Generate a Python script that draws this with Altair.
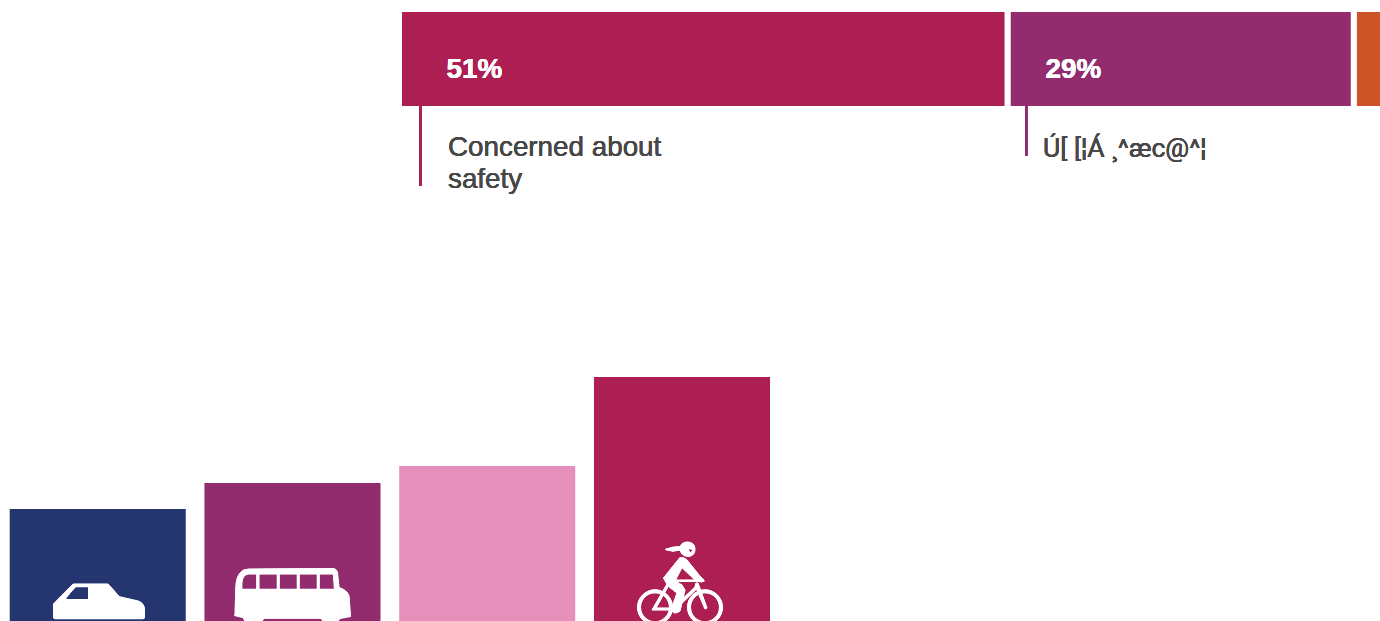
import altair as alt
import pandas as pd

# Share of respondents by reason (stacked strip along the top)
reasons = ["Concerned about safety", "Other concern", "Remainder"]
shares = [51, 29, 20]
reason_colors = ["#ad1f53", "#922c6e", "#cb5527"]

# Travel modes (column chart, running past the lower edge of the view)
modes = ["Car", "Bus", "Walk", "Bike"]
mode_values = [16.1, 18.7, 20.4, 29.3]
mode_colors = ["#243570", "#922c6e", "#e78fbb", "#ad1f53"]

INK = "#484848"
WHITE = "#ffffff"

starts = [sum(shares[:i]) for i in range(len(shares))]
strip = pd.DataFrame({
    "reason": reasons,
    "start": starts,
    "end": [s + v for s, v in zip(starts, shares)],
    "row": ["share"] * len(shares),
})
columns = pd.DataFrame({"mode": modes, "value": mode_values})

strip_bars = alt.Chart(strip).mark_bar(stroke=WHITE, strokeWidth=6, clip=True).encode(
    x=alt.X("start:Q", axis=None, scale=alt.Scale(domain=[0, 100], range=[399, 1592.6])),
    x2="end:Q",
    y=alt.Y("row:N", axis=None, scale=alt.Scale(domain=["share"], range=[9, 109], paddingInner=0, paddingOuter=0)),
    color=alt.Color("reason:N", legend=None, scale=alt.Scale(domain=reasons, range=reason_colors)),
)

mode_bars = alt.Chart(columns).mark_bar(clip=True).encode(
    x=alt.X("mode:N", axis=None, sort=modes,
            scale=alt.Scale(domain=modes, range=[9.7, 770], paddingInner=0.096, paddingOuter=0)),
    y=alt.Y("value:Q", axis=None, scale=alt.Scale(domain=[0, 100], range=[670, -330])),
    color=alt.Color("mode:N", legend=None, scale=alt.Scale(domain=modes, range=mode_colors)),
)


def rule(x, y1, y2, color):
    return alt.Chart(columns).mark_rule(color=color, strokeWidth=2.5).encode(
        x=alt.value(x), y=alt.value(y1), y2=alt.value(y2))


def label(x, y, text, color=INK, size=27.8, bold=False, font="Liberation Sans", **kw):
    return alt.Chart(columns).mark_text(
        text=text, color=color, fontSize=size, font=font, align="left", baseline="alphabetic",
        fontWeight="bold" if bold else "normal", **kw,
    ).encode(x=alt.value(x), y=alt.value(y))


def icon(path):
    # The path is written in screen units around the view origin; symbol size 4 keeps it at scale 1
    return alt.Chart(columns).mark_point(
        shape=path, size=4, filled=True, fill=WHITE, fillOpacity=1, stroke=WHITE, strokeWidth=0.4, opacity=1
    ).encode(x=alt.value(0), y=alt.value(0))


CAR = (
    "M53.5 604 L72.7 584.5 Q73.5 584 75 584 L107 584 Q108.3 584 109 585 L119.3 596.7 L138 601 "
    "Q144 603 144.5 609 L144.5 617 Q144.5 618.7 143 618.7 L55 618.7 Q53.5 618.7 53.5 617 Z "
    "M75.5 586.7 L65.8 598 Q65.5 599.5 67 599.5 L88.5 599.5 L88.5 586.7 Z"
)

BUS = (
    "M235 615 L235.8 588 Q236 578 240 573 Q243 569 249 569 L332 568.5 Q337 568.5 337.5 573 "
    "L339 587.5 Q347 590 349 596 L350.5 616.5 L340.5 618.3 L338 621 L323 621 L321 618.3 L264 618.3 L262 621 "
    "L245 621 L243 617.5 L234.5 615.5 Z "
    "M241.8 589.3 L256.8 589.3 L256.8 574 L248 574 Q242 575 241.8 584 Z "
    "M259 589.3 L277.3 589.3 L277.3 574 L259 574 Z "
    "M279.2 589.3 L297.3 589.3 L297.3 574 L279.2 574 Z "
    "M299.2 589.3 L317.3 589.3 L317.3 574 L299.2 574 Z "
    "M319.2 589.3 L334.5 589.3 L333.3 574 L319.2 574 Z"
)

BIKE = (
    # wheels, each a ring wound in two directions
    "M637.5 607.3 A17.5 17.5 0 1 1 672.5 607.3 A17.5 17.5 0 1 1 637.5 607.3 Z "
    "M640.5 607.3 A14.5 14.5 0 1 0 669.5 607.3 A14.5 14.5 0 1 0 640.5 607.3 Z "
    "M687.5 607.3 A17.5 17.5 0 1 1 722.5 607.3 A17.5 17.5 0 1 1 687.5 607.3 Z "
    "M690.5 607.3 A14.5 14.5 0 1 0 719.5 607.3 A14.5 14.5 0 1 0 690.5 607.3 Z "
    # helmet and head, with the opening for the face
    "M680 549 Q680 542.5 687 542 Q694.5 542 695 549 Q695 556 688 556.5 Q681 556 680 549 Z "
    "M688 548.5 L690 553.5 L693.5 549.5 Z "
    # ponytail
    "M665 549.5 Q672 546.5 681 546.5 L681 550 Q672 552.5 665 549.5 Z "
    # torso and leg
    "M680 557.5 Q684 557 687 560 L699 575 L704 580 L702 582 L696 581 L682 567.5 L675 581 L682 585 "
    "L685 590 L680 611 Q678 613 674 613 L671 610 L677 593 L668 586 L663.5 578 Z "
    # handlebar and frame
    "M675 580 L704 580 L704 581.5 L675 581.5 Z "
    "M667 584 L669 585 L656 608 L673 608 L695 587 L696 583 L698 583 L707 608 L705 609 L696.5 589 "
    "L675 610 L652 610 Z"
)

chart = alt.layer(
    strip_bars.properties(width=1380, height=621),
    mode_bars,
    rule(420.5, 106, 186, "#ad1f53"),
    rule(1026.3, 106, 156, "#922c6e"),
    label(446.5, 77.5, "51%", color=WHITE, bold=True),
    label(1045.5, 77.5, "29%", color=WHITE, bold=True),
    label(448, 156, ["Concerned about", "safety"], lineHeight=32),
    label(1043, 157, "Ú[ [¦Á ¸^æc@^¦", font="Roboto", size=26.6),
    icon(CAR),
    icon(BUS),
    icon(BIKE),
).resolve_scale(x="independent", y="independent", color="independent").properties(
    width=1380,
    height=621,
    padding=0,
    autosize=alt.AutoSizeParams(type="none"),
    background=WHITE,
).configure_view(stroke=None)

chart.save("out.html", embed_options={"renderer": "svg", "actions": False})
